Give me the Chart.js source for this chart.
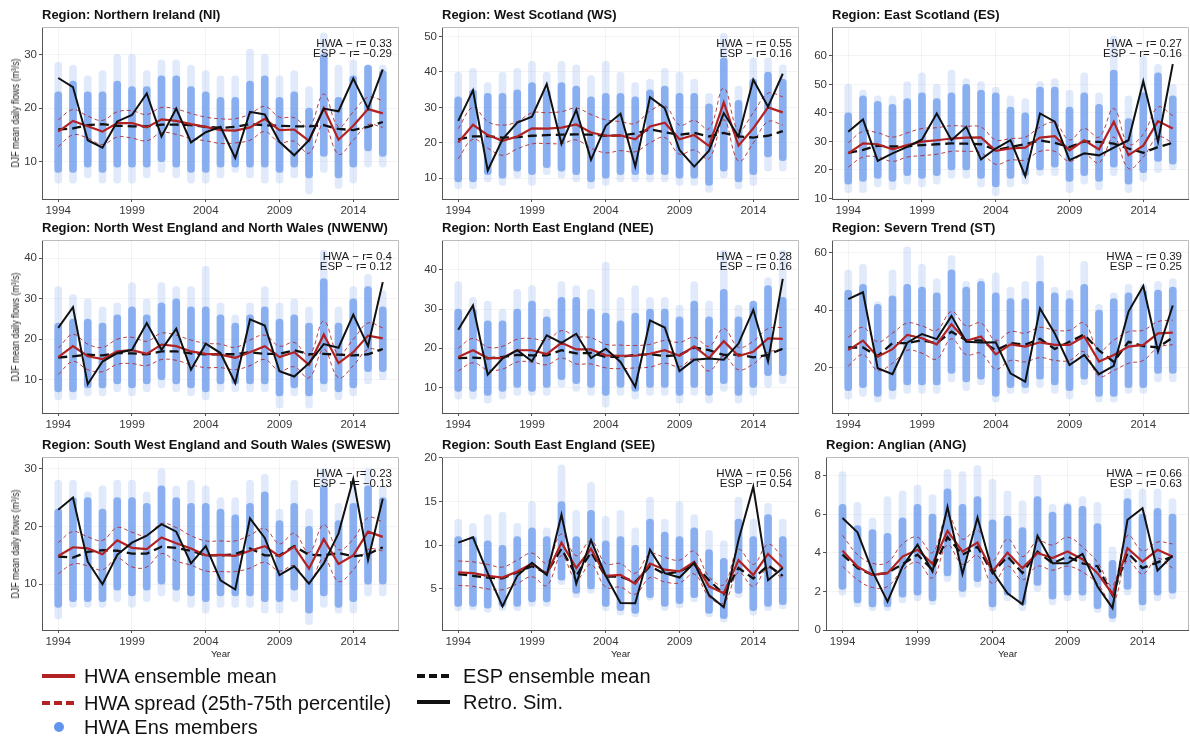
<!DOCTYPE html>
<html>
<head>
<meta charset="utf-8">
<script src="https://cdn.jsdelivr.net/npm/chart.js@4.4.0/dist/chart.umd.min.js"></script>
<style>
  body { margin: 0; background: #fff; width: 1190px; height: 738px; position: relative; overflow: hidden;
         font-family: "Liberation Sans", Arial, sans-serif; color: #111; }
  canvas { position: absolute; }
  .ttl { position: absolute; font-weight: bold; font-size: 13px; line-height: 16px; white-space: nowrap; color: #111; }
  .ylab { position: absolute; font-size: 11px; line-height: 12px; white-space: nowrap; color: #222;
          transform: translate(-50%, -50%) rotate(-90deg) scaleX(0.8); }
  .xlab { position: absolute; font-size: 9.5px; line-height: 11px; white-space: nowrap; color: #222; transform: translateX(-50%); }
  .lt { position: absolute; font-size: 20px; line-height: 22px; white-space: nowrap; color: #111; }
  .smp { position: absolute; width: 33px; height: 4px; }
</style>
</head>
<body>
<script>
const years = [1994, 1995, 1996, 1997, 1998, 1999, 2000, 2001, 2002, 2003, 2004, 2005,
               2006, 2007, 2008, 2009, 2010, 2011, 2012, 2013, 2014, 2015, 2016];
const yearTicks = [1994, 1999, 2004, 2009, 2014];

// Northern Ireland
const niRetro = [25.6, 23.9, 14.0, 12.6, 17.5, 18.7, 22.7, 14.7, 19.9, 13.6, 15.5, 16.5, 10.7, 19.3, 18.8, 13.7, 11.2, 14.0, 19.9, 19.4, 25.5, 19.9, 27.2];
const niHwa   = [15.6, 17.6, 16.6, 15.6, 17.2, 17.2, 16.4, 17.9, 17.6, 17.0, 16.5, 15.9, 15.8, 16.4, 18.0, 15.9, 16.0, 13.9, 20.0, 14.1, 16.7, 19.8, 19.0];
const niEsp   = [16.0, 16.2, 16.8, 17.0, 16.7, 16.6, 16.6, 16.9, 16.9, 16.8, 16.5, 16.3, 16.5, 17.0, 16.8, 16.7, 16.6, 16.6, 16.8, 16.1, 15.9, 16.5, 17.4];
const niP75   = [17.8, 19.7, 18.5, 17.7, 19.3, 19.5, 18.8, 20.1, 19.8, 19.0, 18.3, 18.0, 18.0, 18.9, 20.3, 18.3, 18.2, 16.5, 22.6, 16.5, 19.3, 22.0, 21.4];
const niP25   = [12.8, 15.0, 14.4, 13.2, 14.6, 14.4, 13.9, 15.4, 15.1, 14.3, 13.9, 13.4, 13.5, 14.0, 15.6, 13.6, 13.8, 11.6, 17.0, 11.4, 14.0, 16.9, 16.4];
const niEnsLo = [6, 6, 7, 6, 6, 6, 7, 8, 7, 6, 6, 7, 8, 7, 6, 6, 7, 4, 8, 5, 6, 9, 9];
const niEnsHi = [28.5, 28, 26, 27, 30, 30, 27, 29, 29, 28, 27, 26, 26, 31, 30, 26, 27, 24, 34, 28, 29, 28, 28];
const niCoreLo = [8, 8, 9, 8, 9, 9, 9, 10, 9, 8, 8, 9, 9, 9, 9, 8, 9, 7, 11, 7, 9, 12, 11];
const niCoreHi = [23, 25, 23, 23, 25, 24, 24, 26, 26, 24, 23, 22, 22, 25, 26, 22, 23, 20, 30, 22, 26, 28, 27];
const niYTicks = [10, 20, 30];

// West Scotland
const wsRetro = [26.2, 34.8, 12.2, 21.0, 25.7, 27.4, 36.6, 19.7, 29.3, 15.2, 24.8, 28.2, 13.3, 32.9, 29.8, 18.0, 13.3, 17.8, 28.4, 21.8, 37.8, 30.2, 39.5];
const wsHwa   = [20.1, 25.1, 22.2, 20.6, 21.8, 24.1, 24.0, 24.3, 25.2, 22.9, 22.0, 22.1, 21.0, 24.6, 25.7, 21.0, 22.2, 19.1, 31.4, 19.2, 24.1, 30.0, 28.6];
const wsEsp   = [21.0, 21.8, 21.9, 21.5, 21.6, 22.0, 22.2, 22.3, 22.4, 22.3, 22.0, 22.1, 22.6, 23.8, 23.0, 22.3, 22.8, 21.8, 22.8, 21.8, 21.5, 22.0, 23.3];
const wsP75   = [24.0, 30.0, 26.0, 25.0, 26.0, 28.5, 28.5, 28.8, 29.8, 28.0, 26.5, 26.0, 25.5, 29.0, 30.5, 25.0, 26.3, 24.0, 35.5, 23.5, 28.5, 34.0, 33.0];
const wsP25   = [15.5, 21.0, 18.5, 16.5, 18.3, 19.7, 19.8, 19.8, 20.8, 18.5, 17.2, 17.8, 17.5, 20.0, 21.5, 16.8, 18.0, 15.5, 26.5, 14.8, 20.0, 26.0, 25.0];
const wsEnsLo = [7, 7, 9, 8, 10, 8, 11, 10, 9, 7, 8, 9, 9, 9, 9, 8, 8, 6, 10, 7, 8, 12, 12];
const wsEnsHi = [40, 41, 37, 40, 41, 43, 40, 43, 42, 39, 43, 40, 37, 38, 41, 40, 38, 34, 51, 36, 44, 44, 42];
const wsCoreLo = [9, 9, 11, 10, 12, 11, 13, 12, 11, 9, 10, 11, 11, 11, 11, 10, 10, 8, 12, 9, 11, 16, 15];
const wsCoreHi = [33, 35, 34, 34, 35, 37, 35, 37, 36, 33, 34, 34, 33, 35, 36, 34, 34, 31, 44, 32, 38, 40, 38];
const wsYTicks = [10, 20, 30, 40, 50];

// East Scotland
const esRetro = [33.4, 37.7, 23.2, 25.8, 28.1, 30.7, 39.8, 30.4, 35.1, 23.7, 27.5, 30.4, 17.8, 39.8, 36.9, 23.4, 25.8, 25.1, 27.8, 30.4, 51.1, 29.9, 57.1];
const esHwa   = [25.8, 29.3, 29.0, 27.2, 28.7, 29.9, 30.4, 31.0, 31.3, 31.4, 26.7, 27.5, 27.8, 31.3, 31.8, 26.9, 30.4, 27.2, 36.9, 25.2, 28.5, 37.1, 34.5];
const esEsp   = [26.0, 27.0, 28.5, 28.2, 28.3, 28.7, 29.0, 29.3, 29.2, 29.0, 27.0, 28.0, 29.0, 30.3, 29.5, 28.0, 30.0, 29.8, 29.2, 27.5, 26.0, 28.0, 29.5];
const esP75   = [29.5, 33.5, 33.0, 31.5, 33.0, 34.5, 34.8, 35.5, 35.3, 35.0, 30.5, 31.0, 31.5, 35.0, 36.5, 30.5, 34.5, 31.5, 41.5, 29.0, 32.5, 42.0, 39.0];
const esP25   = [21.0, 24.5, 24.5, 23.0, 24.5, 25.0, 25.5, 26.5, 26.5, 26.0, 22.0, 23.5, 23.5, 26.5, 26.5, 23.0, 25.5, 22.5, 31.5, 20.5, 24.5, 31.5, 29.5];
const esEnsLo = [12, 12, 14, 13, 15, 14, 15, 17, 17, 14, 11, 14, 15, 18, 18, 12, 15, 13, 18, 12, 16, 19, 20];
const esEnsHi = [50, 48, 46, 46, 51, 54, 50, 55, 52, 51, 49, 46, 45, 51, 52, 48, 54, 47, 67, 46, 60, 57, 50];
const esCoreLo = [15, 16, 17, 16, 18, 17, 18, 20, 20, 17, 14, 17, 18, 20, 21, 16, 18, 16, 21, 15, 19, 23, 22];
const esCoreHi = [40, 46, 44, 43, 45, 47, 45, 47, 50, 48, 47, 42, 40, 49, 49, 42, 47, 43, 55, 38, 47, 54, 46];
const esYTicks = [10, 20, 30, 40, 50, 60];

// North West England and North Wales
const nwRetro = [22.8, 27.9, 8.9, 14.5, 16.6, 17.4, 24.0, 17.4, 22.6, 12.5, 18.9, 16.6, 9.2, 24.9, 23.4, 12.1, 10.8, 14.1, 18.8, 17.9, 26.1, 18.3, 34.1];
const nwHwa   = [15.6, 18.3, 15.8, 15.1, 17.0, 17.3, 16.4, 18.7, 18.3, 17.0, 16.4, 16.2, 15.4, 16.8, 18.3, 15.6, 16.8, 13.7, 21.2, 14.1, 16.8, 20.9, 20.2];
const nwEsp   = [15.5, 15.8, 16.2, 16.0, 16.6, 16.5, 16.3, 17.0, 17.0, 16.5, 16.3, 16.3, 16.3, 16.8, 16.4, 16.4, 17.3, 16.3, 16.4, 16.2, 16.0, 16.3, 17.6];
const nwP75   = [17.8, 21.2, 18.8, 18.0, 20.0, 20.5, 19.5, 21.5, 21.0, 19.8, 19.0, 18.8, 18.0, 19.8, 21.0, 18.3, 19.2, 16.0, 24.5, 16.3, 20.0, 24.0, 22.8];
const nwP25   = [11.3, 14.5, 12.5, 12.0, 13.8, 14.0, 13.5, 15.0, 14.8, 13.7, 13.0, 13.0, 12.5, 13.5, 15.0, 12.2, 13.2, 10.5, 17.5, 10.5, 13.5, 17.5, 17.0];
const nwEnsLo = [5, 5, 6, 6, 7, 6, 7, 8, 7, 6, 5, 7, 7, 7, 7, 3, 6, 3, 7, 5, 6, 9, 10];
const nwEnsHi = [33, 31, 30, 28, 29, 34, 30, 34, 33, 33, 38, 29, 26, 29, 33, 29, 30, 28, 42, 28, 33, 36, 32];
const nwCoreLo = [7, 7, 8, 8, 9, 8, 9, 10, 9, 8, 7, 9, 9, 9, 9, 6, 8, 6, 9, 7, 8, 12, 12];
const nwCoreHi = [24, 25, 25, 24, 26, 28, 26, 29, 30, 28, 28, 26, 24, 26, 28, 25, 26, 24, 35, 24, 30, 33, 28];
const nwYTicks = [10, 20, 30, 40];

// North East England
const neRetro = [24.7, 30.9, 13.3, 17.4, 19.5, 16.7, 23.3, 21.4, 23.7, 17.5, 19.9, 16.5, 10.2, 27.1, 25.3, 14.2, 17.1, 17.4, 17.1, 21.2, 29.8, 16.7, 37.7];
const neHwa   = [17.8, 19.5, 17.5, 17.5, 19.5, 19.5, 18.5, 21.4, 19.7, 19.7, 18.2, 18.1, 18.1, 18.6, 19.5, 18.1, 20.5, 17.5, 21.8, 18.0, 19.1, 22.5, 22.4];
const neEsp   = [17.5, 17.6, 17.4, 17.8, 18.3, 18.2, 18.2, 19.5, 18.7, 18.8, 17.8, 17.8, 18.3, 18.5, 18.0, 18.3, 20.2, 19.5, 18.3, 18.4, 17.7, 18.3, 19.9];
const neP75   = [20.0, 22.5, 20.3, 20.5, 22.3, 22.5, 22.0, 24.5, 23.0, 22.7, 21.0, 20.8, 20.7, 21.0, 22.0, 21.5, 22.8, 20.5, 25.0, 20.3, 21.8, 25.0, 25.3];
const neP25   = [14.2, 16.3, 14.5, 14.7, 16.5, 16.5, 15.8, 17.5, 16.0, 16.0, 15.0, 14.8, 15.0, 15.2, 16.2, 15.3, 17.3, 14.2, 18.0, 14.5, 16.0, 19.0, 19.5];
const neEnsLo = [7, 7, 6, 7, 8, 8, 8, 10, 9, 8, 5, 8, 7, 8, 8, 6, 8, 6, 9, 6, 8, 10, 11];
const neEnsHi = [37, 33, 32, 30, 35, 36, 30, 37, 36, 35, 42, 33, 36, 33, 33, 31, 37, 32, 45, 31, 31, 38, 45];
const neCoreLo = [9, 9, 8, 9, 10, 9, 10, 12, 11, 10, 8, 10, 9, 10, 10, 8, 10, 8, 11, 8, 10, 13, 13];
const neCoreHi = [30, 30, 27, 27, 30, 32, 28, 33, 33, 30, 29, 27, 29, 30, 30, 28, 32, 28, 35, 28, 32, 36, 33];
const neYTicks = [10, 20, 30, 40];

// Severn Trent
const stRetro = [43.8, 46.2, 19.8, 17.7, 28.7, 31.7, 29.9, 38.0, 29.0, 28.7, 28.8, 18.0, 15.1, 40.6, 31.9, 20.9, 24.4, 17.7, 20.6, 39.5, 48.4, 25.6, 41.6];
const stHwa   = [26.1, 29.4, 23.8, 26.4, 31.4, 30.2, 28.1, 35.1, 29.3, 30.8, 24.6, 28.1, 27.3, 28.8, 27.9, 27.9, 30.8, 22.1, 24.4, 27.3, 27.9, 31.9, 32.2];
const stEsp   = [27.0, 27.0, 24.0, 28.5, 28.5, 29.5, 28.5, 32.5, 29.5, 29.5, 26.0, 28.5, 28.0, 30.0, 26.5, 29.0, 31.5, 26.0, 22.0, 29.0, 27.5, 27.0, 30.5];
const stP75   = [30.5, 34.0, 29.0, 32.0, 35.5, 34.5, 33.0, 39.5, 34.5, 35.5, 29.5, 32.5, 32.0, 34.0, 33.0, 33.0, 35.5, 26.0, 29.5, 32.5, 33.0, 36.0, 36.5];
const stP25   = [20.5, 24.5, 19.0, 21.5, 26.0, 25.0, 23.0, 30.0, 24.5, 25.0, 19.5, 22.5, 22.0, 23.5, 22.5, 22.5, 25.5, 17.0, 19.0, 21.5, 22.5, 27.0, 28.0];
const stEnsLo = [9, 10, 8, 9, 11, 11, 11, 15, 12, 14, 8, 11, 11, 13, 11, 9, 14, 8, 8, 11, 11, 15, 15];
const stEnsHi = [54, 56, 43, 54, 62, 56, 51, 59, 50, 51, 53, 48, 50, 59, 48, 47, 57, 42, 46, 49, 49, 50, 51];
const stCoreLo = [12, 13, 10, 12, 14, 14, 14, 18, 15, 16, 10, 13, 13, 16, 14, 12, 16, 10, 10, 13, 13, 18, 18];
const stCoreHi = [47, 49, 42, 45, 49, 48, 46, 54, 48, 50, 46, 44, 44, 50, 46, 44, 49, 40, 44, 46, 47, 47, 48];
const stYTicks = [20, 40, 60];

// South West England and South Wales
const swRetro = [22.9, 25.0, 13.9, 10.0, 15.1, 17.2, 18.4, 20.4, 19.1, 13.6, 16.6, 10.7, 9.1, 21.4, 18.0, 11.6, 13.1, 10.1, 13.6, 18.8, 28.2, 14.2, 24.8];
const swHwa   = [14.9, 16.4, 16.2, 15.2, 17.6, 16.3, 16.1, 18.1, 17.1, 16.2, 15.0, 15.1, 14.9, 15.8, 16.6, 14.8, 16.5, 12.7, 17.8, 13.5, 15.0, 19.1, 18.2];
const swEsp   = [14.8, 14.6, 15.6, 15.9, 15.8, 15.3, 15.3, 16.5, 16.3, 15.8, 15.0, 15.0, 15.2, 16.2, 15.0, 15.0, 16.6, 15.1, 15.0, 15.4, 14.8, 15.2, 16.4];
const swP75   = [17.2, 19.1, 18.2, 17.6, 19.8, 19.0, 18.4, 20.5, 19.8, 18.4, 17.5, 17.5, 17.5, 18.5, 19.6, 17.0, 18.8, 15.5, 20.3, 16.0, 17.8, 21.5, 20.8];
const swP25   = [11.8, 13.5, 13.2, 12.5, 14.5, 13.0, 13.0, 15.3, 14.0, 13.3, 12.3, 12.2, 12.2, 12.8, 13.8, 12.3, 13.2, 10.3, 14.5, 10.5, 12.5, 16.0, 15.8];
const swEnsLo = [4, 6, 6, 6, 7, 6, 7, 8, 7, 6, 5, 6, 6, 6, 5, 5, 7, 3, 6, 5, 5, 8, 8];
const swEnsHi = [28, 28, 26, 27, 28, 28, 26, 30, 27, 28, 27, 25, 25, 28, 29, 23, 28, 23, 30, 24, 27, 30, 27];
const swCoreLo = [6, 7, 7, 7, 9, 8, 9, 10, 9, 8, 7, 8, 8, 8, 7, 7, 9, 5, 8, 6, 7, 10, 10];
const swCoreHi = [23, 25, 25, 23, 25, 25, 24, 27, 25, 24, 24, 23, 22, 24, 26, 21, 24, 20, 27, 21, 24, 27, 25];
const swYTicks = [10, 20, 30];

// South East England
const seRetro = [10.3, 10.9, 6.8, 3.0, 6.5, 8.0, 6.6, 13.5, 5.6, 10.6, 6.5, 3.4, 3.35, 9.5, 6.8, 6.3, 8.0, 4.3, 2.9, 10.6, 16.7, 6.0, 7.4];
const seHwa   = [6.9, 6.8, 6.5, 6.3, 7.0, 7.9, 6.7, 10.3, 7.4, 9.6, 6.5, 6.6, 5.6, 7.9, 7.2, 7.0, 8.1, 5.3, 4.5, 8.3, 6.6, 9.0, 7.4];
const seEsp   = [6.7, 6.5, 6.3, 6.2, 6.9, 7.6, 6.8, 9.6, 6.5, 9.2, 6.4, 6.4, 5.8, 7.6, 6.7, 7.0, 7.8, 6.0, 4.4, 7.4, 6.2, 7.7, 6.5];
const seP75   = [8.2, 8.1, 7.8, 7.5, 8.3, 9.1, 8.0, 11.3, 8.8, 10.5, 7.9, 7.9, 6.8, 9.0, 8.6, 8.3, 9.3, 6.4, 5.5, 9.5, 7.8, 10.1, 8.6];
const seP25   = [5.4, 5.3, 5.0, 4.9, 5.6, 6.4, 5.4, 8.8, 6.1, 7.8, 5.2, 5.2, 4.4, 6.3, 5.8, 5.7, 6.7, 4.1, 3.4, 6.9, 5.3, 7.4, 6.1];
const seEnsLo = [2.5, 2.6, 2.3, 2.5, 2.5, 3, 3, 5.5, 4, 4.5, 2.5, 2, 1.8, 3.7, 2.5, 2.8, 3.5, 1.8, 1.2, 4, 2, 2.5, 2.7];
const seEnsHi = [13, 12.5, 13.5, 13.8, 12.5, 15, 12, 19.2, 14, 17.2, 13.3, 14, 12, 15.5, 13, 15, 13.5, 11.7, 10.5, 15.5, 13, 14.8, 13];
const seCoreLo = [3, 3, 2.8, 3, 3, 3.5, 3.5, 6, 4.5, 5, 3, 2.5, 2.2, 4, 3, 3.3, 4, 2.2, 1.6, 4.5, 2.5, 3, 3.2];
const seCoreHi = [11, 11, 10.5, 10, 11, 12, 11, 15, 11, 14, 10.5, 11, 10, 13, 11.5, 11, 12, 9.5, 8.5, 13, 11, 13.5, 11];
const seYTicks = [5, 10, 15, 20];

// Anglian
const anRetro = [5.79, 5.05, 3.03, 1.47, 3.28, 4.41, 3.03, 6.36, 2.9, 5.82, 3.03, 1.9, 1.33, 4.87, 3.45, 3.45, 3.94, 2.25, 1.13, 5.7, 6.3, 3.08, 3.84];
const anHwa   = [4.1, 3.28, 2.85, 2.94, 3.8, 4.15, 3.42, 5.13, 4.06, 4.53, 3.03, 4.0, 3.2, 3.98, 3.72, 4.06, 3.66, 2.94, 1.85, 4.23, 3.54, 4.15, 3.8];
const anEsp   = [3.9, 3.2, 2.85, 2.95, 3.4, 3.9, 3.1, 4.8, 3.9, 4.3, 2.95, 3.8, 2.95, 4.05, 3.45, 3.8, 3.45, 3.3, 1.8, 4.0, 3.2, 3.5, 3.8];
const anP75   = [4.9, 3.9, 3.45, 3.5, 4.45, 4.8, 4.0, 5.9, 4.7, 5.2, 3.6, 4.7, 3.8, 4.6, 4.4, 4.8, 4.3, 3.5, 2.3, 4.9, 4.1, 4.55, 4.45];
const anP25   = [3.3, 2.6, 2.2, 2.25, 3.1, 3.5, 2.7, 4.4, 3.4, 3.85, 2.4, 3.3, 2.6, 3.3, 3.1, 3.3, 3.0, 2.4, 1.4, 3.6, 2.9, 3.7, 3.2];
const anEnsLo = [1.8, 1.2, 1.0, 1.0, 1.4, 1.5, 1.3, 2.5, 1.7, 2.2, 1.0, 1.5, 1.0, 2.0, 1.3, 1.5, 1.5, 0.9, 0.4, 1.8, 1.0, 1.5, 1.6];
const anEnsHi = [8.2, 6.6, 5.8, 6.9, 7.2, 7.5, 7.0, 8.3, 8.2, 8.5, 7.8, 7.2, 6.7, 8.0, 6.5, 6.6, 6.9, 6.6, 4.3, 7.3, 7.3, 7.3, 6.8];
const anCoreLo = [2.1, 1.4, 1.2, 1.2, 1.7, 1.8, 1.5, 2.8, 2.0, 2.5, 1.2, 1.8, 1.3, 2.3, 1.6, 1.8, 1.8, 1.1, 0.6, 2.1, 1.3, 1.8, 1.9];
const anCoreHi = [6.5, 5.4, 5.2, 5.0, 5.8, 6.5, 6.0, 7.3, 6.5, 6.9, 5.7, 5.9, 5.3, 6.9, 6.1, 6.5, 6.4, 5.5, 3.6, 6.8, 6.0, 6.3, 6.0];
const anYTicks = [0, 2, 4, 6, 8];

const panels = [
  { title: 'Region: Northern Ireland (NI)', r: ['0.33', '\u22120.29'], yMin: 3.05, yMax: 35.1, yTicks: niYTicks,
    retro: niRetro, hwa: niHwa, esp: niEsp, p75: niP75, p25: niP25, lo: niEnsLo, hi: niEnsHi, cLo: niCoreLo, cHi: niCoreHi },
  { title: 'Region: West Scotland (WS)', r: ['0.55', '0.16'], yMin: 4.15, yMax: 52.7, yTicks: wsYTicks,
    retro: wsRetro, hwa: wsHwa, esp: wsEsp, p75: wsP75, p25: wsP25, lo: wsEnsLo, hi: wsEnsHi, cLo: wsCoreLo, cHi: wsCoreHi },
  { title: 'Region: East Scotland (ES)', r: ['0.27', '\u22120.16'], yMin: 9.8, yMax: 70.1, yTicks: esYTicks,
    retro: esRetro, hwa: esHwa, esp: esEsp, p75: esP75, p25: esP25, lo: esEnsLo, hi: esEnsHi, cLo: esCoreLo, cHi: esCoreHi },
  { title: 'Region: North West England and North Wales (NWENW)', r: ['0.4', '0.12'], yMin: 1.8, yMax: 44.5, yTicks: nwYTicks,
    retro: nwRetro, hwa: nwHwa, esp: nwEsp, p75: nwP75, p25: nwP25, lo: nwEnsLo, hi: nwEnsHi, cLo: nwCoreLo, cHi: nwCoreHi },
  { title: 'Region: North East England (NEE)', r: ['0.28', '0.16'], yMin: 3.5, yMax: 47.6, yTicks: neYTicks,
    retro: neRetro, hwa: neHwa, esp: neEsp, p75: neP75, p25: neP25, lo: neEnsLo, hi: neEnsHi, cLo: neCoreLo, cHi: neCoreHi },
  { title: 'Region: Severn Trend (ST)', r: ['0.39', '0.25'], yMin: 4.2, yMax: 64.4, yTicks: stYTicks,
    retro: stRetro, hwa: stHwa, esp: stEsp, p75: stP75, p25: stP25, lo: stEnsLo, hi: stEnsHi, cLo: stCoreLo, cHi: stCoreHi },
  { title: 'Region: South West England and South Wales (SWESW)', r: ['0.23', '\u22120.13'], yMin: 2.1, yMax: 32, yTicks: swYTicks,
    retro: swRetro, hwa: swHwa, esp: swEsp, p75: swP75, p25: swP25, lo: swEnsLo, hi: swEnsHi, cLo: swCoreLo, cHi: swCoreHi },
  { title: 'Region: South East England (SEE)', r: ['0.56', '0.54'], yMin: 0.3, yMax: 20.1, yTicks: seYTicks,
    retro: seRetro, hwa: seHwa, esp: seEsp, p75: seP75, p25: seP25, lo: seEnsLo, hi: seEnsHi, cLo: seCoreLo, cHi: seCoreHi },
  { title: 'Region: Anglian (ANG)', r: ['0.66', '0.63'], yMin: 0, yMax: 8.95, yTicks: anYTicks, left: 826,
    retro: anRetro, hwa: anHwa, esp: anEsp, p75: anP75, p25: anP25, lo: anEnsLo, hi: anEnsHi, cLo: anCoreLo, cHi: anCoreHi }
];

// plot-area layout (px)
const colL = [42, 442, 832], colR = [399, 799, 1189];
const rowT = [27, 240, 457], rowB = [199, 413, 630];
const AXW = 40, PADT = 10, AXH = 22;

const RED = '#b22222';
const BLUE = '100,149,237';
const FONT = '"Liberation Sans", Arial, sans-serif';

// frame on top/right + r annotation
const deco = {
  id: 'deco',
  afterDatasetsDraw(chart, args, opts) {
    const { ctx, chartArea: a } = chart;
    ctx.save();
    ctx.strokeStyle = '#bcbcbc';
    ctx.lineWidth = 1;
    ctx.beginPath();
    ctx.moveTo(a.left, a.top + 0.5);
    ctx.lineTo(a.right - 0.5, a.top + 0.5);
    ctx.lineTo(a.right - 0.5, a.bottom);
    ctx.stroke();
    ctx.fillStyle = '#1a1a1a';
    ctx.font = '11.5px ' + FONT;
    ctx.textAlign = 'right';
    ctx.textBaseline = 'middle';
    ctx.fillText('HWA \u2212 r= ' + opts.r[0], a.right - 7, a.top + 17);
    ctx.fillText('ESP \u2212 r= ' + opts.r[1], a.right - 7, a.top + 27);
    ctx.restore();
  }
};

const pts = vals => years.map((y, i) => ({ x: y, y: vals[i] }));
const bars = (lo, hi) => years.map((y, i) => ({ x: y, y: [lo[i], hi[i]] }));

function addDiv(cls, text, style) {
  const d = document.createElement('div');
  d.className = cls;
  d.textContent = text;
  d.style.cssText = style;
  document.body.appendChild(d);
  return d;
}

panels.forEach((p, idx) => {
  const col = idx % 3, row = Math.floor(idx / 3);
  const l = p.left || colL[col], r = colR[col], t = rowT[row], b = rowB[row];
  const cw = r - l + AXW, ch = b - t + PADT + AXH;
  const cv = document.createElement('canvas');
  cv.width = cw;
  cv.height = ch;
  cv.style.left = (l - AXW) + 'px';
  cv.style.top = (t - PADT) + 'px';
  document.body.appendChild(cv);

  addDiv('ttl', p.title, `left:${l}px;top:${t - 20}px`);
  if (col === 0) addDiv('ylab', 'DJF mean daily flows (m\u00b3/s)', `left:15px;top:${(t + b) / 2}px`);
  if (row === 2) addDiv('xlab', 'Year', `left:${(l + r) / 2}px;top:${b + 18}px`);

  new Chart(cv, {
    type: 'line',
    data: {
      datasets: [
        { type: 'bar', data: bars(p.lo, p.hi), backgroundColor: `rgba(${BLUE},0.2)`, barThickness: 7,
          borderRadius: 3.5, borderSkipped: false, grouped: false, order: 7 },
        { type: 'bar', data: bars(p.cLo, p.cHi), backgroundColor: `rgba(${BLUE},0.7)`, barThickness: 7,
          borderRadius: 3.5, borderSkipped: false, grouped: false, order: 6 },
        { data: pts(p.p75), borderColor: 'rgba(178,34,34,0.85)', borderWidth: 1, borderDash: [4, 3],
          tension: 0.4, pointRadius: 0, order: 5 },
        { data: pts(p.p25), borderColor: 'rgba(178,34,34,0.85)', borderWidth: 1, borderDash: [4, 3],
          tension: 0.4, pointRadius: 0, order: 4 },
        { data: pts(p.esp), borderColor: '#111', borderWidth: 2.3, borderDash: [9, 5], pointRadius: 0, order: 3 },
        { data: pts(p.hwa), borderColor: RED, borderWidth: 2.2, pointRadius: 0, order: 2 },
        { data: pts(p.retro), borderColor: '#111', borderWidth: 2, pointRadius: 0, order: 1 }
      ]
    },
    options: {
      responsive: false,
      animation: false,
      devicePixelRatio: 1,
      layout: { padding: { top: PADT, left: 0, right: 0, bottom: 0 } },
      plugins: { legend: { display: false }, tooltip: { enabled: false }, deco: { r: p.r } },
      scales: {
        x: {
          type: 'linear', min: 1992.9, max: 2017.1, offset: false,
          afterBuildTicks: s => { s.ticks = yearTicks.map(v => ({ value: v })); },
          afterFit: s => { s.height = AXH; },
          ticks: { callback: v => String(v), font: { size: 11.5, family: FONT }, color: '#3a3a3a',
                   padding: 2, maxRotation: 0, autoSkip: false },
          grid: { offset: false, color: 'rgba(0,0,0,0.045)', tickColor: '#555', tickLength: 3 },
          border: { color: '#555', width: 1 }
        },
        y: {
          min: p.yMin, max: p.yMax,
          afterBuildTicks: s => { s.ticks = p.yTicks.map(v => ({ value: v })); },
          afterFit: s => { s.width = AXW; },
          ticks: { font: { size: 11.5, family: FONT }, color: '#3a3a3a', padding: 2 },
          grid: { offset: false, color: 'rgba(0,0,0,0.045)', tickColor: '#555', tickLength: 3 },
          border: { color: '#555', width: 1 }
        }
      }
    },
    plugins: [deco]
  });
});

// legend
const legendItems = [
  { label: 'HWA ensemble mean', x: 42, tx: 84, y: 676, kind: 'solid', color: RED },
  { label: 'HWA spread (25th-75th percentile)', x: 42, tx: 84, y: 703, kind: 'dash', color: RED },
  { label: 'HWA Ens members', x: 42, tx: 84, y: 727, kind: 'dot', color: `rgb(${BLUE})` },
  { label: 'ESP ensemble mean', x: 417, tx: 463, y: 676, kind: 'dash', color: '#111' },
  { label: 'Retro. Sim.', x: 417, tx: 463, y: 702, kind: 'solid', color: '#111' }
];
legendItems.forEach(it => {
  let st;
  if (it.kind === 'solid') st = `left:${it.x}px;top:${it.y - 2}px;background:${it.color}`;
  else if (it.kind === 'dash') st = `left:${it.x}px;top:${it.y - 2}px;width:32px;background:repeating-linear-gradient(to right, ${it.color} 0 8px, transparent 8px 12px)`;
  else st = `left:${it.x + 12}px;top:${it.y - 5}px;width:10px;height:10px;border-radius:50%;background:${it.color}`;
  addDiv('smp', '', st);
  addDiv('lt', it.label, `left:${it.tx}px;top:${it.y - 11}px`);
});
</script>
</body>
</html>
